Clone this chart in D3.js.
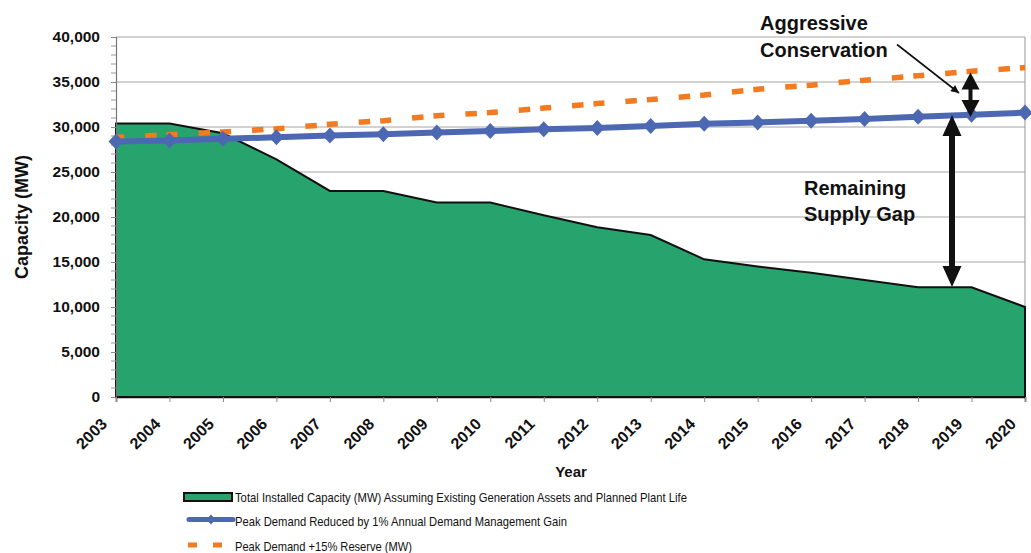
<!DOCTYPE html>
<html>
<head>
<meta charset="utf-8">
<script src="https://cdn.jsdelivr.net/npm/d3@7"></script>
<style>
  body { margin: 0; background: #fff; }
  text { font-family: Arial, "Liberation Sans", sans-serif; fill: #111; }
</style>
</head>
<body>
<svg id="chart" width="1031" height="553"></svg>
<script>
var years = [2003, 2004, 2005, 2006, 2007, 2008, 2009, 2010, 2011, 2012, 2013, 2014, 2015, 2016, 2017, 2018, 2019, 2020];
var capacity = [30400, 30400, 29300, 26400, 22900, 22900, 21600, 21600, 20200, 18850, 18000, 15300, 14500, 13800, 13000, 12200, 12200, 10000];
var demand = [28400, 28500, 28700, 28850, 29050, 29200, 29400, 29550, 29750, 29900, 30100, 30350, 30500, 30700, 30900, 31150, 31350, 31600];
var reserve = [28850, 29150, 29450, 29800, 30300, 30700, 31250, 31600, 32100, 32600, 33050, 33550, 34200, 34650, 35200, 35700, 36200, 36600];
var yTicks = [0, 5000, 10000, 15000, 20000, 25000, 30000, 35000, 40000];
var legendLabels = [
  "Total Installed Capacity (MW) Assuming Existing Generation Assets and Planned Plant Life",
  "Peak Demand Reduced by 1% Annual Demand Management Gain",
  "Peak Demand +15% Reserve (MW)"
];

var green = "#27a36d", blue = "#4d68b2", orange = "#f47a20";

var svg = d3.select("#chart");
var x = d3.scaleLinear().domain([2003, 2020]).range([116, 1025]);
var y = d3.scaleLinear().domain([0, 40000]).range([397, 37]);

// gridlines + frame
svg.append("g").selectAll("line").data(yTicks.slice(1)).enter().append("line")
  .attr("x1", 116).attr("x2", 1025)
  .attr("y1", function(d){ return y(d); }).attr("y2", function(d){ return y(d); })
  .attr("stroke", "#a6a6a6").attr("stroke-width", 1.2);
svg.append("line").attr("x1", 1025).attr("x2", 1025).attr("y1", 37).attr("y2", 397)
  .attr("stroke", "#a6a6a6").attr("stroke-width", 1.2);

// area
var area = d3.area()
  .x(function(d, i){ return x(years[i]); })
  .y0(y(0))
  .y1(function(d){ return y(d); });
svg.append("path").datum(capacity)
  .attr("d", function(d){ return area(d) + "Z"; })
  .attr("fill", green).attr("stroke", "#111").attr("stroke-width", 2)
  .attr("stroke-linejoin", "miter");

// y axis
var yAxis = d3.axisLeft(y).tickValues(yTicks).tickSize(5).tickFormat(d3.format(","));
var gy = svg.append("g").attr("transform", "translate(116,0)").call(yAxis);
gy.select(".domain").attr("stroke", "#777").attr("stroke-width", 1.2);
gy.selectAll(".tick line").attr("stroke", "#888");
gy.selectAll(".tick text").attr("x", -16).attr("font-size", "15.5px").attr("font-weight", "bold")
  .attr("font-family", "Arial, 'Liberation Sans', sans-serif").attr("fill", "#111");
var minor = d3.range(0, 40001, 1000).filter(function(d){ return d % 5000 !== 0; });
svg.append("g").selectAll("line").data(minor).enter().append("line")
  .attr("x1", 111).attr("x2", 116)
  .attr("y1", function(d){ return y(d); }).attr("y2", function(d){ return y(d); })
  .attr("stroke", "#999");

// x axis
var xAxis = d3.axisBottom(x).tickValues(years).tickSize(5).tickFormat(d3.format("d"));
var gx = svg.append("g").attr("transform", "translate(0,397)").call(xAxis);
gx.select(".domain").attr("stroke", "#111").attr("stroke-width", 1.5);
gx.selectAll(".tick line").attr("stroke", "#888");
gx.selectAll(".tick text")
  .attr("font-size", "16px").attr("font-weight", "bold")
  .attr("font-family", "Arial, 'Liberation Sans', sans-serif").attr("fill", "#111")
  .attr("text-anchor", "end").attr("dy", null).attr("y", null)
  .attr("transform", "translate(-8.5,28) rotate(-45)");

// reserve dashed line
var line = d3.line()
  .x(function(d, i){ return x(years[i]); })
  .y(function(d){ return y(d); });
svg.append("path").datum(reserve).attr("d", line)
  .attr("fill", "none").attr("stroke", orange).attr("stroke-width", 5.5)
  .attr("stroke-dasharray", "11,21,11.5,10").attr("stroke-dashoffset", 2.8);

// demand line with diamonds
svg.append("path").datum(demand).attr("d", line)
  .attr("fill", "none").attr("stroke", blue).attr("stroke-width", 6);
function diamond(cx, cy, w, h) {
  return "M" + cx + "," + (cy - h) + "L" + (cx + w) + "," + cy + "L" + cx + "," + (cy + h) + "L" + (cx - w) + "," + cy + "Z";
}
svg.append("g").selectAll("path").data(demand).enter().append("path")
  .attr("d", function(d, i){ return diamond(x(years[i]), y(d), 7.5, 8); })
  .attr("fill", blue);

// annotations
function doubleArrow(cx, y1, y2, shaft, headW, headL) {
  return "M" + cx + "," + y1 +
    "L" + (cx + headW / 2) + "," + (y1 + headL) +
    "L" + (cx + shaft / 2) + "," + (y1 + headL) +
    "L" + (cx + shaft / 2) + "," + (y2 - headL) +
    "L" + (cx + headW / 2) + "," + (y2 - headL) +
    "L" + cx + "," + y2 +
    "L" + (cx - headW / 2) + "," + (y2 - headL) +
    "L" + (cx - shaft / 2) + "," + (y2 - headL) +
    "L" + (cx - shaft / 2) + "," + (y1 + headL) +
    "L" + (cx - headW / 2) + "," + (y1 + headL) + "Z";
}
svg.append("path").attr("d", doubleArrow(952, 115, 287, 6, 19, 21)).attr("fill", "#111");
svg.append("path").attr("d", doubleArrow(970.5, 72.5, 117, 4, 18, 17)).attr("fill", "#111");

svg.append("defs").append("marker").attr("id", "head")
  .attr("viewBox", "0 0 10 10").attr("refX", 10).attr("refY", 5)
  .attr("markerWidth", 10).attr("markerHeight", 8).attr("orient", "auto")
  .attr("markerUnits", "userSpaceOnUse")
  .append("path").attr("d", "M0,0L10,5L0,10Z").attr("fill", "#111");
svg.append("line").attr("x1", 897).attr("y1", 44.5).attr("x2", 959).attr("y2", 93)
  .attr("stroke", "#111").attr("stroke-width", 1.6).attr("marker-end", "url(#head)");

var notes = [["Aggressive", 760, 29.5], ["Conservation", 760, 57], ["Remaining", 804, 195], ["Supply Gap", 804, 221]];
svg.append("g").selectAll("text").data(notes).enter().append("text")
  .attr("x", function(d){ return d[1]; }).attr("y", function(d){ return d[2]; })
  .attr("font-size", "20px").attr("font-weight", "bold")
  .text(function(d){ return d[0]; });

// axis titles
svg.append("text").attr("transform", "translate(28,217) rotate(-90)")
  .attr("text-anchor", "middle").attr("font-size", "18px").attr("font-weight", "bold")
  .text("Capacity (MW)");
svg.append("text").attr("x", 571).attr("y", 477).attr("text-anchor", "middle")
  .attr("font-size", "15px").attr("font-weight", "bold").text("Year");

// legend
var legendWidths = [452, 332, 177];
var leg = svg.append("g");
leg.append("rect").attr("x", 184).attr("y", 493).attr("width", 48).attr("height", 8)
  .attr("fill", green).attr("stroke", "#111").attr("stroke-width", 2);
leg.append("line").attr("x1", 189).attr("x2", 233).attr("y1", 519.5).attr("y2", 519.5)
  .attr("stroke", blue).attr("stroke-width", 5).attr("stroke-linecap", "round");
leg.append("path").attr("d", diamond(211, 519.5, 4.5, 5)).attr("fill", blue);
leg.append("line").attr("x1", 188).attr("x2", 222).attr("y1", 545).attr("y2", 545)
  .attr("stroke", orange).attr("stroke-width", 5).attr("stroke-dasharray", "9,16");
leg.selectAll("text").data(legendLabels).enter().append("text")
  .attr("x", 235).attr("y", function(d, i){ return 501.5 + i * 24.5; })
  .attr("font-size", "13px")
  .attr("textLength", function(d, i){ return legendWidths[i]; })
  .attr("lengthAdjust", "spacingAndGlyphs")
  .text(function(d){ return d; });
</script>
</body>
</html>
